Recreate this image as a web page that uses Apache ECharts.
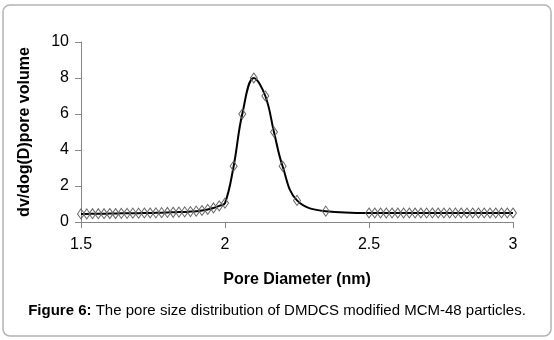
<!DOCTYPE html>
<html>
<head>
<meta charset="utf-8">
<script src="https://cdn.jsdelivr.net/npm/echarts@6/dist/echarts.min.js"></script>
<style>
  html, body { margin: 0; padding: 0; background: #fff; }
  #chart { width: 554px; height: 340px; }
</style>
</head>
<body>
<div id="chart"></div>
<script>
// Pore diameter (nm) of each measured point
var poreDiameter = [
  1.50, 1.52, 1.54, 1.56, 1.58, 1.60, 1.62, 1.64, 1.66, 1.68,
  1.70, 1.72, 1.74, 1.76, 1.78, 1.80, 1.82, 1.84, 1.86, 1.88,
  1.90, 1.92, 1.94, 1.96, 1.98, 2.00, 2.03, 2.06, 2.10, 2.14,
  2.17, 2.20, 2.25, 2.35,
  2.50, 2.52, 2.54, 2.56, 2.58, 2.60, 2.62, 2.64, 2.66, 2.68,
  2.70, 2.72, 2.74, 2.76, 2.78, 2.80, 2.82, 2.84, 2.86, 2.88,
  2.90, 2.92, 2.94, 2.96, 2.98, 3.00
];
// dV/dlog(D) pore volume at each diameter
var poreVolume = [
  0.45, 0.45, 0.46, 0.46, 0.46, 0.47, 0.47, 0.48, 0.48, 0.49,
  0.49, 0.50, 0.50, 0.51, 0.52, 0.53, 0.54, 0.55, 0.56, 0.58,
  0.60, 0.64, 0.70, 0.78, 0.90, 1.05, 3.10, 6.00, 8.00, 7.00,
  5.00, 3.10, 1.20, 0.60,
  0.50, 0.50, 0.50, 0.50, 0.50, 0.50, 0.50, 0.50, 0.50, 0.50,
  0.50, 0.50, 0.50, 0.50, 0.50, 0.50, 0.50, 0.50, 0.50, 0.50,
  0.50, 0.50, 0.50, 0.50, 0.50, 0.50
];
var xTicks = [1.5, 2, 2.5, 3];
var yTicks = [0, 2, 4, 6, 8, 10];

var points = poreDiameter.map(function (d, i) { return [d, poreVolume[i]]; });

var FONT = 'Liberation Sans, Arial, sans-serif';
var chart = echarts.init(document.getElementById('chart'), null, { renderer: 'canvas' });

chart.setOption({
  animation: false,
  backgroundColor: '#ffffff',
  grid: { left: 81, right: 41, top: 42, bottom: 118, containLabel: false },
  xAxis: {
    type: 'value',
    min: xTicks[0], max: xTicks[xTicks.length - 1], interval: 0.5,
    name: 'Pore Diameter (nm)',
    nameLocation: 'middle', nameGap: 50,
    nameTextStyle: { fontFamily: FONT, fontSize: 16, fontWeight: 'bold', color: '#000' },
    axisLine: { show: true, lineStyle: { color: '#868686', width: 1 } },
    axisTick: { show: true, inside: false, length: 6, lineStyle: { color: '#868686' } },
    axisLabel: {
      fontFamily: FONT, fontSize: 16, color: '#000', margin: 15,
      formatter: function (v) { return xTicks.indexOf(v) >= 0 ? String(v) : ''; }
    },
    splitLine: { show: false }
  },
  yAxis: {
    type: 'value',
    min: yTicks[0], max: yTicks[yTicks.length - 1], interval: 2,
    name: 'dv/dog(D)pore volume',
    nameLocation: 'middle', nameGap: 48, nameRotate: 90,
    nameTextStyle: { fontFamily: FONT, fontSize: 16, fontWeight: 'bold', color: '#000' },
    axisLine: { show: true, lineStyle: { color: '#868686', width: 1 } },
    axisTick: { show: true, inside: false, length: 6, lineStyle: { color: '#868686' } },
    axisLabel: { fontFamily: FONT, fontSize: 16, color: '#000', margin: 12 },
    splitLine: { show: false }
  },
  series: [{
    type: 'line',
    data: points,
    smooth: 0.4,
    lineStyle: { color: '#000', width: 2 },
    symbol: 'diamond',
    symbolSize: [7, 10],
    showAllSymbol: true,
    itemStyle: { color: 'transparent', borderColor: '#666', borderWidth: 1 },
    emphasis: { disabled: true },
    z: 3
  }],
  graphic: [
    {
      type: 'rect',
      shape: { x: 3, y: 5, width: 548, height: 331, r: 7 },
      style: { fill: 'none', stroke: '#b4b4b4', lineWidth: 1.5 },
      silent: true
    },
    {
      type: 'text',
      left: 'center',
      top: 303,
      style: {
        text: '{b|Figure 6:} The pore size distribution of DMDCS modified MCM-48 particles.',
        fontFamily: FONT, fontSize: 15, fill: '#000',
        rich: { b: { fontFamily: FONT, fontSize: 15, fontWeight: 'bold', fill: '#000' } }
      }
    }
  ]
});
</script>
</body>
</html>
